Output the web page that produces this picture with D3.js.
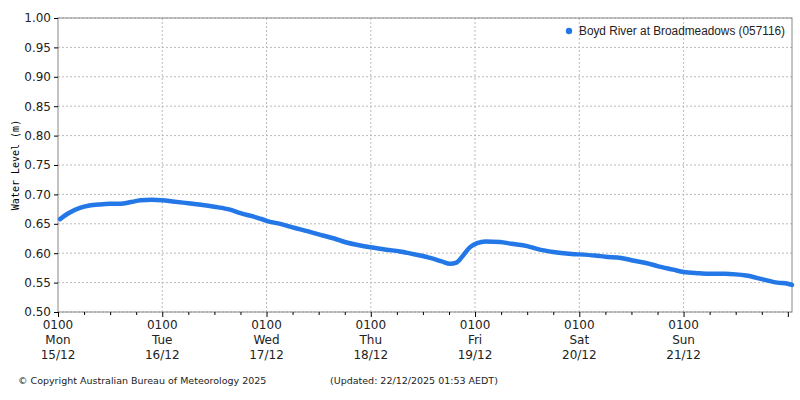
<!DOCTYPE html>
<html><head><meta charset="utf-8">
<script src="https://cdn.jsdelivr.net/npm/d3@7"></script>
<style>body{margin:0;background:#fff;font-family:"DejaVu Sans",sans-serif}</style>
</head><body><div id="chart"></div>
<script>
// days since 01:00 Mon 15/12, and water level (m)
const days = [0.02,0.1,0.21,0.3,0.4,0.5,0.6,0.7,0.79,0.9,1.0,1.1,1.2,1.35,1.5,1.65,1.75,1.9,2.0,2.15,2.25,2.4,2.5,2.65,2.75,2.9,3.0,3.15,3.28,3.45,3.57,3.68,3.76,3.82,3.88,3.95,4.02,4.1,4.24,4.35,4.5,4.62,4.75,4.9,5.0,5.15,5.25,5.4,5.5,5.65,5.75,5.9,6.0,6.15,6.25,6.4,6.5,6.6,6.75,6.9,7.0,7.04];
const level = [0.658,0.668,0.677,0.681,0.683,0.684,0.684,0.687,0.690,0.691,0.690,0.688,0.686,0.683,0.679,0.674,0.668,0.661,0.655,0.649,0.644,0.637,0.632,0.625,0.619,0.613,0.610,0.606,0.603,0.597,0.592,0.586,0.582,0.584,0.595,0.610,0.617,0.620,0.619,0.616,0.612,0.606,0.602,0.599,0.598,0.596,0.594,0.592,0.588,0.583,0.578,0.572,0.568,0.566,0.565,0.565,0.564,0.562,0.556,0.550,0.548,0.546];
const dayLabels = [["Mon","15/12"],["Tue","16/12"],["Wed","17/12"],["Thu","18/12"],["Fri","19/12"],["Sat","20/12"],["Sun","21/12"]];
const yTicks = d3.range(0.5, 1.0001, 0.05);

const W = 800, H = 400, m = {l:58, r:8, t:18, b:88};
const svg = d3.select("#chart").append("svg").attr("width", W).attr("height", H);
const x = d3.scaleLinear().domain([0, 7.04]).range([m.l, W - m.r]);
const y = d3.scaleLinear().domain([0.5, 1.0]).range([H - m.b, m.t]);

// grid
svg.append("g").selectAll("line").data(yTicks).join("line")
  .attr("x1", m.l).attr("x2", W - m.r).attr("y1", d => y(d)).attr("y2", d => y(d))
  .attr("stroke", "#bbb").attr("stroke-dasharray", "2,2");
svg.append("g").selectAll("line").data(d3.range(1, 7)).join("line")
  .attr("x1", d => x(d)).attr("x2", d => x(d)).attr("y1", m.t).attr("y2", H - m.b)
  .attr("stroke", "#bbb").attr("stroke-dasharray", "2,2");
svg.append("rect").attr("x", m.l).attr("y", m.t).attr("width", W - m.l - m.r).attr("height", H - m.t - m.b)
  .attr("fill", "none").attr("stroke", "#888");

// y axis
const ya = svg.append("g").attr("transform", `translate(${m.l},0)`)
  .call(d3.axisLeft(y).tickValues(yTicks).tickFormat(d3.format(".2f")).tickSize(4));
ya.select(".domain").remove();
ya.selectAll("text").attr("font-size", 12).attr("font-family", "DejaVu Sans").attr("fill", "#222");
svg.append("text").attr("transform", `translate(19,${(m.t + H - m.b) / 2}) rotate(-90)`)
  .attr("text-anchor", "middle").attr("font-size", 10).attr("font-family", "DejaVu Sans Mono")
  .text("Water Level (m)");

// x axis
const xa = svg.append("g").attr("transform", `translate(0,${H - m.b})`)
  .call(d3.axisBottom(x).tickValues(d3.range(0, 7.01, 0.25)).tickSize(3).tickFormat(""));
xa.select(".domain").remove();
xa.selectAll(".tick line").filter(d => d % 1 === 0).attr("y2", 5);
const lab = svg.append("g").selectAll("text").data(dayLabels).join("text")
  .attr("x", (d, i) => x(i)).attr("text-anchor", "middle").attr("font-size", 12).attr("fill", "#222");
lab.append("tspan").attr("x", (d, i) => x(i)).attr("y", H - m.b + 17).text("0100");
lab.append("tspan").attr("x", (d, i) => x(i)).attr("y", H - m.b + 32).text(d => d[0]);
lab.append("tspan").attr("x", (d, i) => x(i)).attr("y", H - m.b + 47).text(d => d[1]);

// series
const pts = days.map((d, i) => [d, level[i]]);
svg.append("path").datum(pts)
  .attr("d", d3.line().x(d => x(d[0])).y(d => y(d[1])).curve(d3.curveMonotoneX))
  .attr("fill", "none").attr("stroke", "#2477e6").attr("stroke-width", 4.5).attr("stroke-linecap", "round");

// legend
svg.append("circle").attr("cx", 569).attr("cy", 31).attr("r", 3.2).attr("fill", "#2477e6");
svg.append("text").attr("x", 579).attr("y", 35).attr("font-size", 12).attr("fill", "#222")
  .attr("font-family", "Liberation Sans").attr("textLength", 206).attr("lengthAdjust", "spacingAndGlyphs")
  .text("Boyd River at Broadmeadows (057116)");

// footer
svg.append("text").attr("x", 18).attr("y", 384).attr("font-size", 9.5).attr("fill", "#222")
  .text("© Copyright Australian Bureau of Meteorology 2025");
svg.append("text").attr("x", 330).attr("y", 384).attr("font-size", 9.5).attr("fill", "#222")
  .text("(Updated: 22/12/2025 01:53 AEDT)");
</script></body></html>
